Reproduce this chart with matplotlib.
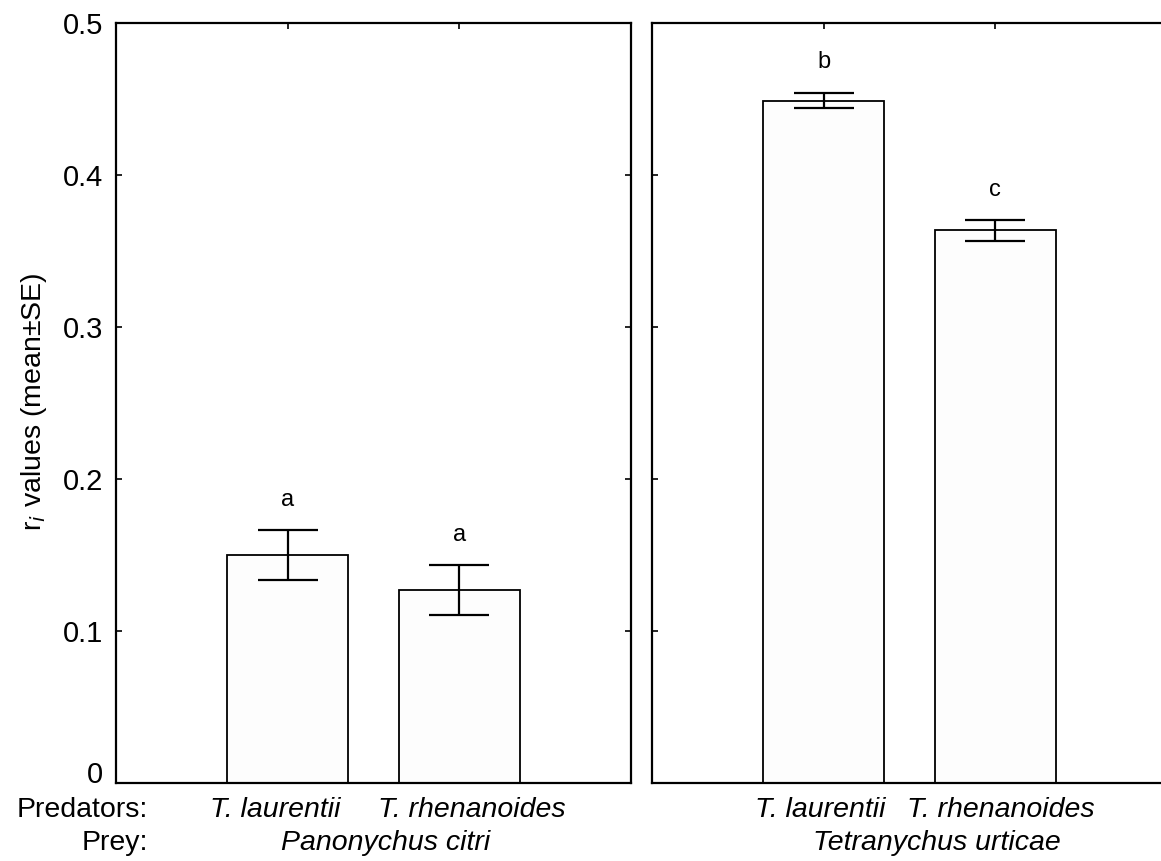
import matplotlib
matplotlib.use("Agg")
import matplotlib.pyplot as plt

# =========================
# DATOS
# =========================
depredadores = ["T. laurentii", "T. rhenanoides"]
presas = ["Panonychus citri", "Tetranychus urticae"]
medias_citri = [0.150, 0.127]
se_citri = [0.0165, 0.0165]
medias_urticae = [0.449, 0.3636]
se_urticae = [0.0051, 0.0068]
letras_citri = ["a", "a"]
letras_urticae = ["b", "c"]
yticks = [0, 0.1, 0.2, 0.3, 0.4, 0.5]
ytick_labels = ["0", "0.1", "0.2", "0.3", "0.4", "0.5"]

plt.rcParams["font.family"] = ["Liberation Sans", "DejaVu Sans"]

W, H = 1161, 861
fig = plt.figure(figsize=(W / 100, H / 100), dpi=100)

def px_axes(x0, x1, y0, y1):
    return fig.add_axes([x0 / W, 1 - y1 / H, (x1 - x0) / W, (y1 - y0) / H])

# el panel derecho se sale un poco del borde, como en el original
ax1 = px_axes(116, 631, 23, 783)
ax2 = px_axes(652, 1167, 23, 783)

def panel(ax, medias, se, letras, etiquetas_y):
    x = [1, 2]
    ax.bar(x, medias, width=0.705, color="#fdfdfd", edgecolor="black",
           linewidth=1.3, zorder=2)
    ax.errorbar(x, medias, yerr=se, fmt="none", ecolor="black",
                elinewidth=1.6, capsize=21.5, capthick=1.6, zorder=3)
    for xi, m, s, l in zip(x, medias, se, letras):
        ax.text(xi, m + s + 0.016, l, ha="center", va="baseline", fontsize=17)
    ax.set_xlim(0, 3)
    ax.set_ylim(0, 0.5)
    ax.set_xticks(x)
    ax.set_xticklabels([])
    ax.set_yticks(yticks)
    if etiquetas_y:
        ax.set_yticklabels(ytick_labels, fontsize=21)
        ax.get_yticklabels()[0].set_va("baseline")
    else:
        ax.set_yticklabels([])
    ax.tick_params(direction="in", length=4, width=1.2, top=True, right=True,
                   pad=9)
    for s in ax.spines.values():
        s.set_linewidth(1.6)

panel(ax1, medias_citri, se_citri, letras_citri, True)
panel(ax2, medias_urticae, se_urticae, letras_urticae, False)

# =========================
# ETIQUETAS INFERIORES
# =========================
def ftext(x, y, s, **kw):
    fig.text(x / W, 1 - y / H, s, va="baseline", fontsize=20.5, **kw)

ftext(148, 817, "Predators:", ha="right")
ftext(148, 850, "Prey:", ha="right")
ftext(275, 817, depredadores[0], ha="center", style="italic")
ftext(472, 817, depredadores[1], ha="center", style="italic")
ftext(386, 850, presas[0], ha="center", style="italic")
ftext(820, 817, depredadores[0], ha="center", style="italic")
ftext(1001, 817, depredadores[1], ha="center", style="italic")
ftext(937, 850, presas[1], ha="center", style="italic")

fig.text(34 / W, 1 - 402 / H, r"r$_{\mathit{i}}$ values (mean±SE)",
         rotation=90, ha="center", va="center", fontsize=20.5)

fig.savefig("out.png", dpi=100)
